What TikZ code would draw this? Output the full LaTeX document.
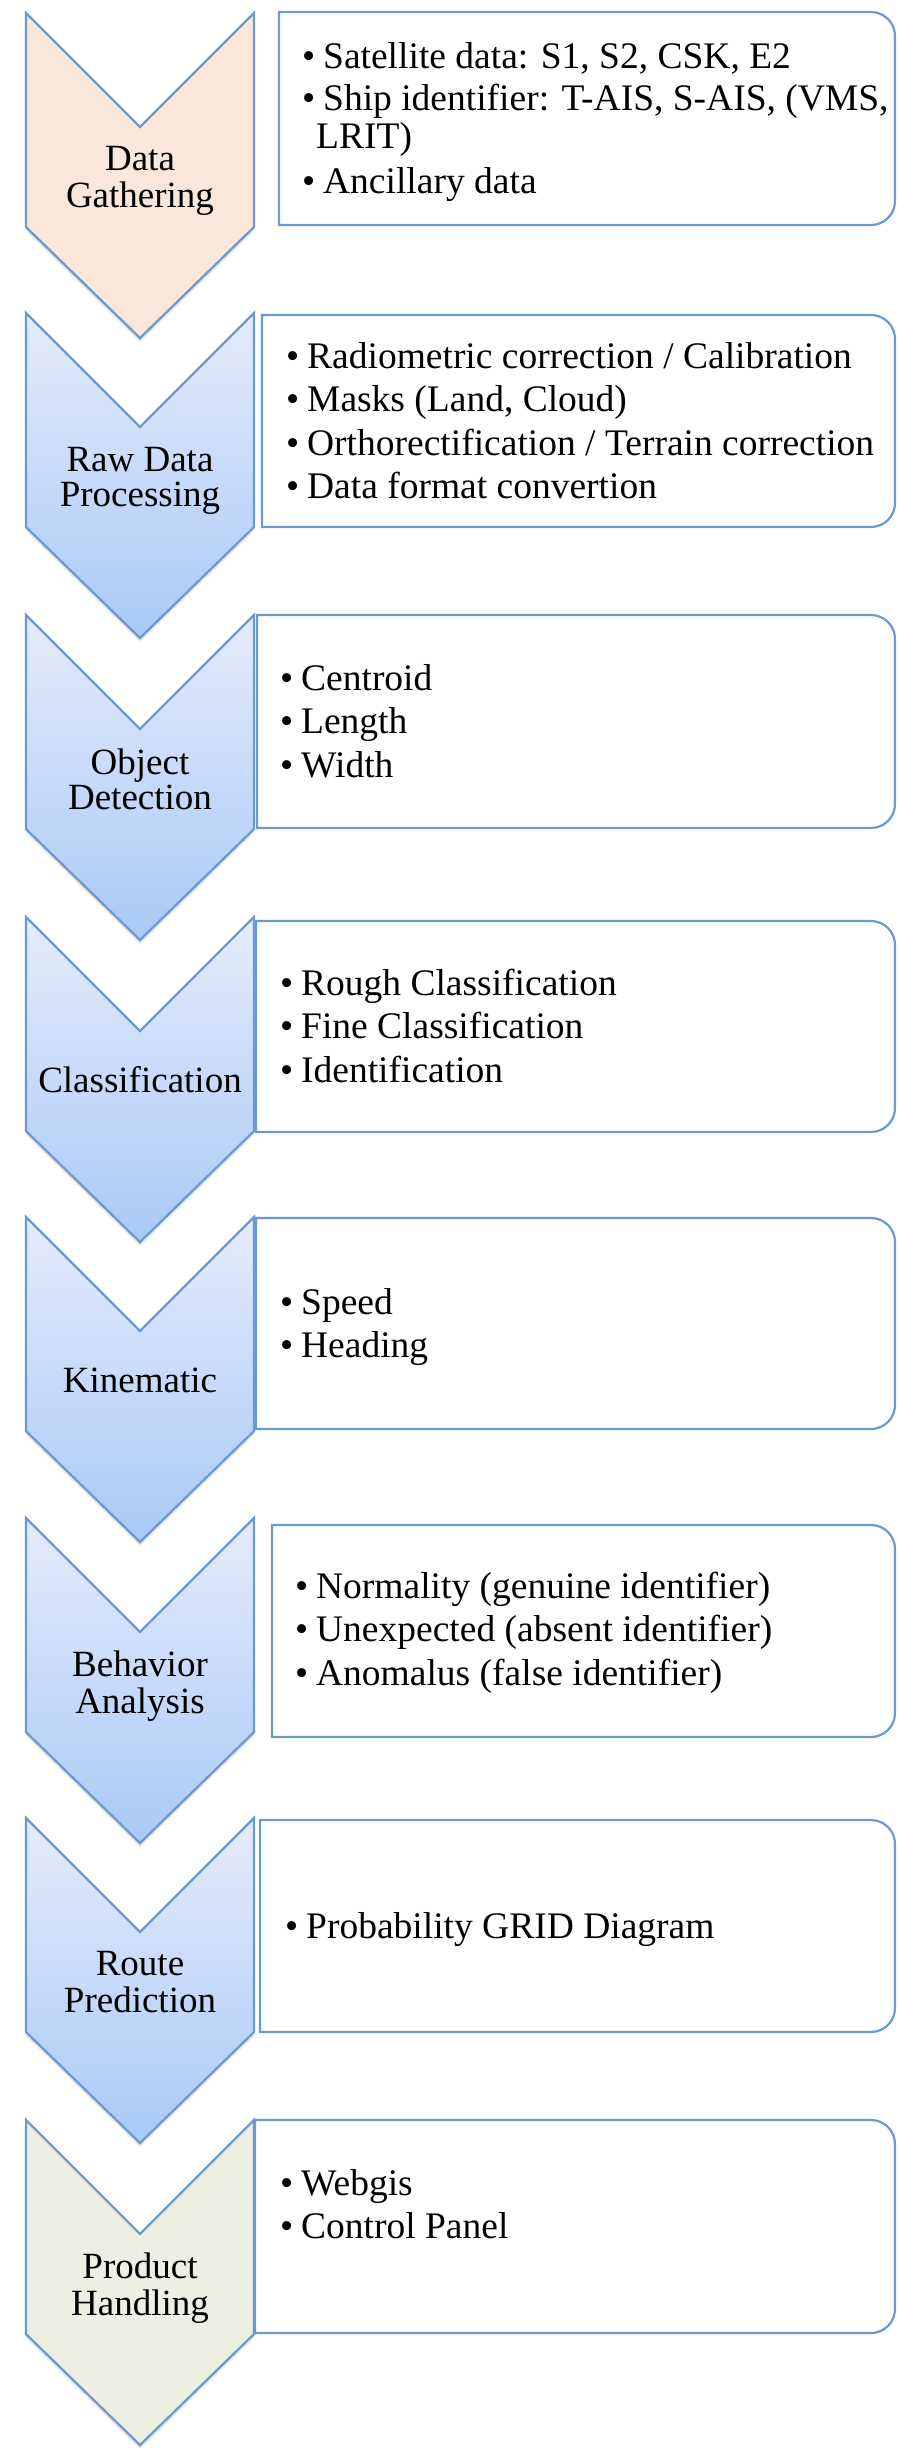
\documentclass[tikz,border=0pt]{standalone}
\usepackage{fontspec}
\setmainfont{Liberation Serif}
\definecolor{edgeblue}{RGB}{108,153,209}
\definecolor{peach}{RGB}{251,231,217}
\definecolor{bluetop}{RGB}{228,236,251}
\definecolor{bluebot}{RGB}{170,201,247}
\definecolor{sage}{RGB}{237,239,225}
\newcommand{\chevronpath}[2]{%
  \foreach \s in {1.5,3,4.5}{%
    \path[fill=black,opacity=0.06] (26,-#1-\s) -- ++(114,-114) -- ++(114,114) -- ++(0,-214)
      -- ++(-114,-111) -- ++(-114,111) -- cycle;}
  \path[chev,#2] (26,-#1) -- ++(114,-114) -- ++(114,114) -- ++(0,-214)
    -- ++(-114,-111) -- ++(-114,111) -- cycle;}
\newcommand{\infobox}[3]{%
  \path[infob] (#1,-#2) -- (871,-#2) arc[start angle=90,end angle=0,radius=24]
    -- (895,-#3+24) arc[start angle=0,end angle=-90,radius=24] -- (#1,-#3) -- cycle;}
\newcommand{\bul}{\makebox[21pt][l]{\textbullet}}
\tikzset{
  chev/.style={draw=edgeblue,line width=2.2pt,line join=miter},
  peachfill/.style={fill=peach},
  bluefill/.style={top color=bluetop,bottom color=bluebot},
  sagefill/.style={fill=sage},
  infob/.style={draw=edgeblue,line width=2.2pt,fill=white},
  lbl/.style={font=\fontsize{37}{35}\selectfont,align=center,inner sep=0pt,text=black},
  items/.style={font=\fontsize{37.5}{38}\selectfont,align=left,inner sep=0pt,anchor=north west,text=black},
}
\begin{document}
\begin{tikzpicture}[x=1pt,y=1pt]
\useasboundingbox (0,0) rectangle (897,-2448);
% chevrons
\chevronpath{13}{peachfill}
\chevronpath{313}{bluefill}
\chevronpath{615}{bluefill}
\chevronpath{917}{bluefill}
\chevronpath{1217}{bluefill}
\chevronpath{1518}{bluefill}
\chevronpath{1818}{bluefill}
\chevronpath{2120}{sagefill}
% boxes
\infobox{279}{12}{225}
\infobox{262}{315}{527}
\infobox{257}{615}{828}
\infobox{256}{921}{1132}
\infobox{256}{1218}{1429}
\infobox{272}{1525}{1737}
\infobox{260}{1820}{2032}
\infobox{255}{2120}{2333}
% labels
\node[lbl] (l1) at (140,-182) {\strut Data\\\strut Gathering};
\node[lbl] (l2) at (140,-482) {\strut Raw Data\\\strut Processing};
\node[lbl] (l3) at (140,-784) {\strut Object\\\strut Detection};
\node[lbl] (l4) at (140,-1085) {\strut Classification};
\node[lbl] (l5) at (140,-1385) {\strut Kinematic};
\node[lbl] (l6) at (140,-1687) {\strut Behavior\\\strut Analysis};
\node[lbl] (l7) at (140,-1987) {\strut Route\\\strut Prediction};
\node[lbl] (l8) at (140,-2289) {\strut Product\\\strut Handling};
% bullet lists
\node[items] (t1) at (302,-41.4) {\strut\bul Satellite data: S1, S2, CSK, E2\\[4pt]
  \strut\bul Ship identifier: T-AIS, S-AIS, (VMS,\\
  \strut\hspace{14pt}LRIT)\\[7pt]
  \strut\bul Ancillary data};
\node[items] (t2) at (286,-341.4) {\strut\bul Radiometric correction / Calibration\\[5.5pt]
  \strut\bul Masks (Land, Cloud)\\[5.5pt]
  \strut\bul Orthorectification / Terrain correction\\[5.5pt]
  \strut\bul Data format convertion};
\node[items] (t3) at (280,-663.4) {\strut\bul Centroid\\[5.5pt]
  \strut\bul Length\\[5.5pt]
  \strut\bul Width};
\node[items] (t4) at (280,-968.4) {\strut\bul Rough Classification\\[5.5pt]
  \strut\bul Fine Classification\\[5.5pt]
  \strut\bul Identification};
\node[items] (t5) at (280,-1287.4) {\strut\bul Speed\\[5.5pt]
  \strut\bul Heading};
\node[items] (t6) at (295,-1571.4) {\strut\bul Normality (genuine identifier)\\[5.5pt]
  \strut\bul Unexpected (absent identifier)\\[5.5pt]
  \strut\bul Anomalus (false identifier)};
\node[items] (t7) at (285,-1911.4) {\strut\bul Probability GRID Diagram};
\node[items] (t8) at (280,-2168.4) {\strut\bul Webgis\\[5.5pt]
  \strut\bul Control Panel};
\end{tikzpicture}
\end{document}
